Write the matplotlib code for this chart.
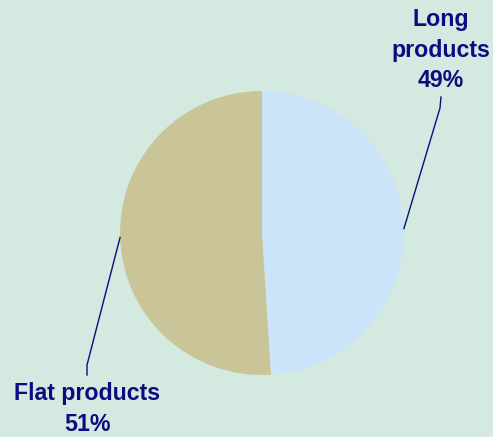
import numpy as np
import matplotlib.pyplot as plt

labels = ['Long\nproducts', 'Flat products']
shares = [49, 51]
colors = ['#cce4fa', '#c9c598']

bg = '#d4e9e0'
navy = '#0c0c80'

W, H = 493, 437
fig = plt.figure(figsize=(W / 100, H / 100), dpi=100, facecolor=bg)
ax = fig.add_axes([0, 0, 1, 1])
ax.set_facecolor(bg)

cx, cy, r = 262, H - 233, 142
wedges, _ = ax.pie(shares, colors=colors, startangle=90, counterclock=False,
                   center=(cx, cy), radius=r, frame=True,
                   wedgeprops=dict(linewidth=0))
ax.set_xlim(0, W)
ax.set_ylim(0, H)
ax.set_aspect('equal')
ax.axis('off')

# leader line knees and label centres (pixel coords from top)
knees = [(440, 108), (87, 365)]
ends = [(441, 97), (87, 375)]
text_pos = [(441, 50), (87, 409)]

for w, lab, s, k, e, tp in zip(wedges, labels, shares, knees, ends, text_pos):
    ang = np.deg2rad((w.theta1 + w.theta2) / 2)
    ax0 = cx + r * np.cos(ang)
    ay0 = cy + r * np.sin(ang)
    ax.plot([ax0, k[0], e[0]], [ay0, H - k[1], H - e[1]], color=navy, lw=1)
    ax.text(tp[0], H - tp[1], f'{lab}\n{s}%', ha='center', va='center',
            color=navy, fontsize=16.7, fontweight='bold',
            family='Liberation Sans', linespacing=1.4)

fig.savefig('out.png', dpi=100, facecolor=bg)
